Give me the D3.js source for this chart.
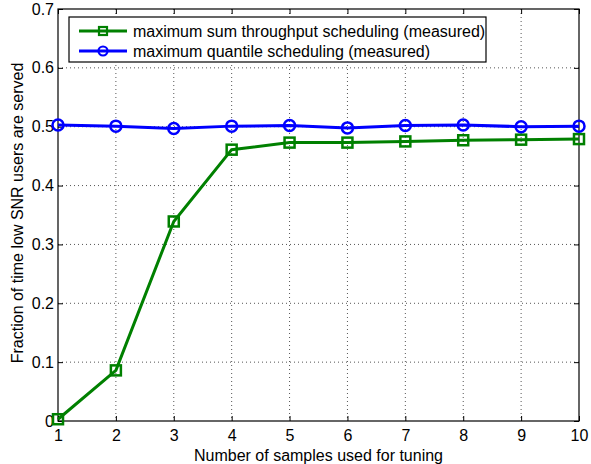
<!DOCTYPE html>
<html>
<head>
<meta charset="utf-8">
<script src="https://cdn.jsdelivr.net/npm/d3@7"></script>
<style>
  body { margin: 0; background: #fff; }
  svg text { font-family: "Liberation Sans", Arial, sans-serif; }
</style>
</head>
<body>
<div id="chart"></div>
<script>
var samples = [1, 2, 3, 4, 5, 6, 7, 8, 9, 10];
var sum_throughput = [0.003, 0.086, 0.339, 0.461, 0.473, 0.473, 0.475, 0.477, 0.478, 0.479];
var quantile = [0.503, 0.501, 0.497, 0.501, 0.502, 0.498, 0.502, 0.503, 0.500, 0.501];
var x_ticks = [1, 2, 3, 4, 5, 6, 7, 8, 9, 10];
var y_ticks = [0, 0.1, 0.2, 0.3, 0.4, 0.5, 0.6, 0.7];
var legend_names = ['maximum sum throughput scheduling (measured)', 'maximum quantile scheduling (measured)'];

var margin = { top: 9, right: 12, bottom: 43, left: 58 },
    width = 591 - margin.left - margin.right,
    height = 464 - margin.top - margin.bottom;

var svg = d3.select('#chart').append('svg')
    .attr('width', 591)
    .attr('height', 464)
    .append('g')
    .attr('transform', `translate(${margin.left},${margin.top})`);

var x = d3.scaleLinear().domain([1, 10]).range([0, width]);
var y = d3.scaleLinear().domain([0, 0.7]).range([height, 0]);

// dotted grid
svg.append('g').selectAll('line').data(x_ticks.slice(1, -1)).enter().append('line')
    .attr('x1', d => x(d)).attr('x2', d => x(d))
    .attr('y1', 0).attr('y2', height)
    .attr('stroke', '#555').attr('stroke-width', 1).attr('stroke-dasharray', '1,3');
svg.append('g').selectAll('line').data(y_ticks.slice(1, -1)).enter().append('line')
    .attr('x1', 0).attr('x2', width)
    .attr('y1', d => y(d)).attr('y2', d => y(d))
    .attr('stroke', '#555').attr('stroke-width', 1).attr('stroke-dasharray', '1,3');

// axes with inward ticks on all sides
function style_axis(g) {
    g.select('.domain').remove();
    g.selectAll('.tick line').attr('stroke', '#000');
    g.selectAll('.tick text').attr('fill', '#000').style('font-size', '16px');
}
svg.append('g').attr('transform', `translate(0,${height})`)
    .call(d3.axisBottom(x).tickValues(x_ticks).tickSize(-5).tickPadding(9).tickFormat(d3.format('d')))
    .call(style_axis);
svg.append('g')
    .call(d3.axisTop(x).tickValues(x_ticks).tickSize(-5).tickFormat(''))
    .call(style_axis);
svg.append('g')
    .call(d3.axisLeft(y).tickValues(y_ticks).tickSize(-5).tickPadding(4).tickFormat(d => d === 0 ? '0' : d3.format('.1f')(d)))
    .call(style_axis);
svg.append('g').attr('transform', `translate(${width},0)`)
    .call(d3.axisRight(y).tickValues(y_ticks).tickSize(-5).tickFormat(''))
    .call(style_axis);

svg.append('rect')
    .attr('width', width).attr('height', height)
    .attr('fill', 'none').attr('stroke', '#000').attr('stroke-width', 1.2);

var line = d3.line().x((d, i) => x(samples[i])).y(d => y(d));

// green series
svg.append('path').datum(sum_throughput)
    .attr('d', line).attr('fill', 'none')
    .attr('stroke', '#008000').attr('stroke-width', 3);
svg.selectAll('.sq').data(sum_throughput).enter().append('rect')
    .attr('class', 'sq')
    .attr('x', (d, i) => x(samples[i]) - 5).attr('y', d => y(d) - 5)
    .attr('width', 10).attr('height', 10)
    .attr('fill', 'none').attr('stroke', '#008000').attr('stroke-width', 2.5);

// blue series
svg.append('path').datum(quantile)
    .attr('d', line).attr('fill', 'none')
    .attr('stroke', '#0000ff').attr('stroke-width', 3);
svg.selectAll('.ci').data(quantile).enter().append('circle')
    .attr('class', 'ci')
    .attr('cx', (d, i) => x(samples[i])).attr('cy', d => y(d))
    .attr('r', 5.5)
    .attr('fill', 'none').attr('stroke', '#0000ff').attr('stroke-width', 2.5);

// axis labels
svg.append('text')
    .attr('x', width / 2).attr('y', height + 39.5)
    .attr('text-anchor', 'middle').style('font-size', '16px')
    .text('Number of samples used for tuning');
svg.append('text')
    .attr('transform', `translate(${-35.5},${height / 2 - 2}) rotate(-90)`)
    .attr('text-anchor', 'middle').style('font-size', '16px')
    .text('Fraction of time low SNR users are served');

// legend
var legend = svg.append('g').attr('transform', `translate(${69 - margin.left},${17 - margin.top})`);
legend.append('rect')
    .attr('width', 417).attr('height', 45)
    .attr('fill', '#fff').attr('stroke', '#000').attr('stroke-width', 1.2);
var colors = ['#008000', '#0000ff'];
legend_names.forEach(function (name, i) {
    var ly = 14 + i * 20;
    legend.append('line')
        .attr('x1', 10).attr('x2', 58).attr('y1', ly).attr('y2', ly)
        .attr('stroke', colors[i]).attr('stroke-width', 3);
    if (i === 0) {
        legend.append('rect').attr('x', 30).attr('y', ly - 4).attr('width', 8).attr('height', 8)
            .attr('fill', 'none').attr('stroke', colors[i]).attr('stroke-width', 2.2);
    } else {
        legend.append('circle').attr('cx', 34).attr('cy', ly).attr('r', 4.5)
            .attr('fill', 'none').attr('stroke', colors[i]).attr('stroke-width', 2.2);
    }
    legend.append('text')
        .attr('x', 64).attr('y', ly + 5.5)
        .style('font-size', '16px')
        .text(name);
});
</script>
</body>
</html>
